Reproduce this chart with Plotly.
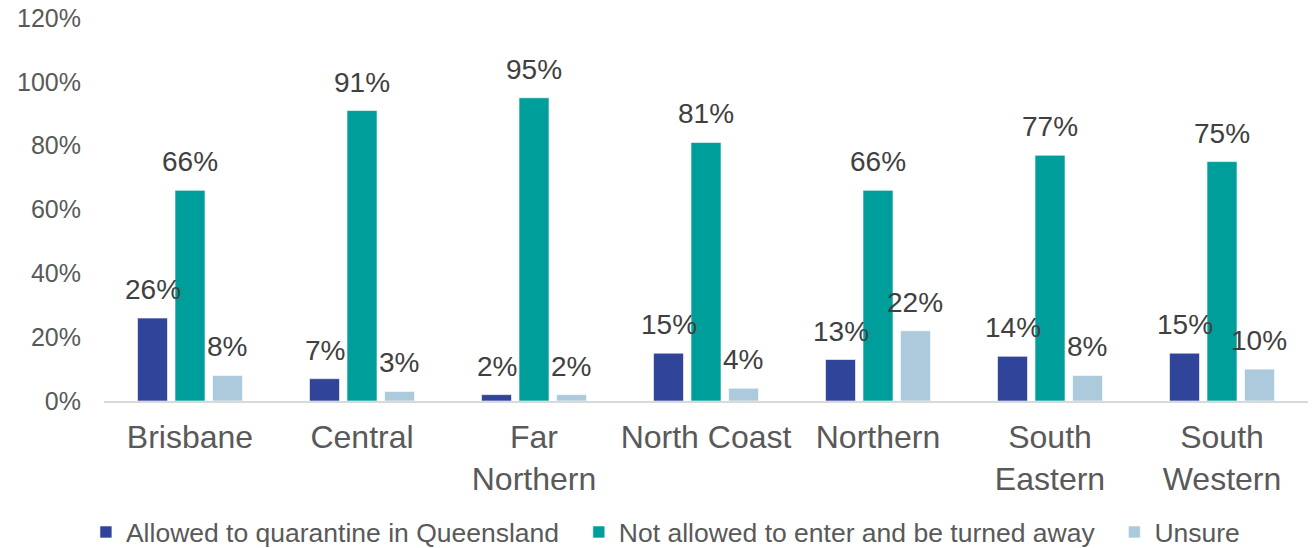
import plotly.graph_objects as go

categories = ["Brisbane", "Central", "Far<br>Northern", "North Coast", "Northern",
              "South<br>Eastern", "South<br>Western"]
allowed = [26, 7, 2, 15, 13, 14, 15]
not_allowed = [66, 91, 95, 81, 66, 77, 75]
unsure = [8, 3, 2, 4, 22, 8, 10]

series = [
    ("Allowed to quarantine in Queensland", allowed, "#30449A"),
    ("Not allowed to enter and be turned away", not_allowed, "#009E9A"),
    ("Unsure", unsure, "#ADCADC"),
]

W, H = 1312, 548
ML, MR, MT, MB = 104, 4, 18, 147
BARGAP, GROUPGAP = 0.346, 0.2
cat_px = (W - ML - MR) / len(categories)
slot_px = cat_px * (1 - BARGAP) / len(series)

fig = go.Figure()
annotations = []
for i, (name, vals, color) in enumerate(series):
    fig.add_trace(go.Bar(
        x=categories, y=vals, name=name + "\u00a0\u00a0",
        marker=dict(color=color, line=dict(color="rgba(255,255,255,0.6)", width=1)),
    ))
    for c, v in zip(categories, vals):
        annotations.append(dict(
            x=c, y=v, xref="x", yref="y", text=f"{v}%", showarrow=False,
            xanchor="center", yanchor="bottom", yshift=11,
            xshift=(i - (len(series) - 1) / 2) * slot_px,
            font=dict(family="Liberation Sans, Arial", size=28, color="#404040"),
        ))

fig.update_layout(
    width=W, height=H,
    margin=dict(l=ML, r=MR, t=MT, b=MB, autoexpand=False),
    plot_bgcolor="white", paper_bgcolor="white",
    barmode="group", bargap=BARGAP, bargroupgap=GROUPGAP,
    font=dict(family="Liberation Sans, Arial", color="#595959"),
    showlegend=True,
    annotations=annotations,
    legend=dict(orientation="h", x=-0.015, xanchor="left", y=-0.28, yanchor="top",
                font=dict(size=26.5, color="#595959"), itemwidth=30,
                traceorder="normal"),
)
fig.update_xaxes(showline=True, linecolor="#D9D9D9", linewidth=2, ticks="",
                 automargin=False,
                 tickfont=dict(size=32, color="#595959"), ticklabelstandoff=7)
fig.update_yaxes(range=[0, 120], dtick=20, ticksuffix="%", showgrid=False,
                 zeroline=False, showline=False, automargin=False,
                 ticklabeloverflow="allow",
                 tickfont=dict(size=25, color="#595959"), ticklabelstandoff=22)

fig.write_html("out.html", config={"displayModeBar": False},
               post_script="document.body.style.margin='0';")
